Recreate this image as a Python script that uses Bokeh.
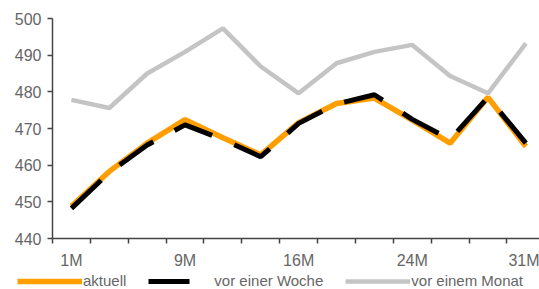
from bokeh.plotting import figure
from bokeh.layouts import column
from bokeh.models import FixedTicker, Legend, LegendItem, Range1d
from bokeh.embed import file_html
from bokeh.resources import INLINE

# --- data -------------------------------------------------------------
x_idx = list(range(13))
tick_positions = [0, 3, 6, 9, 12]
tick_labels = ["1M", "9M", "16M", "24M", "31M"]
aktuell = [448.8, 458.3, 466.0, 472.4, 467.5, 462.8, 471.6, 476.8, 478.3, 472.3, 466.0, 478.5, 465.1]
vor_woche = [448.2, 458.0, 465.5, 471.0, 467.0, 462.3, 471.4, 476.7, 479.2, 472.5, 467.0, 478.5, 466.0]
vor_monat = [477.8, 475.6, 485.0, 490.9, 497.3, 486.9, 479.6, 487.8, 490.9, 492.8, 484.3, 479.6, 493.2]
y_ticks = [440, 450, 460, 470, 480, 490, 500]
series_names = ["aktuell", "vor einer Woche", "vor einem Monat"]

FONT = "Liberation Sans"
TXT = "#666666"
AX = "#444444"
C_A, C_W, C_M = "#FF9E00", "#000000", "#C4C4C4"

main = figure(width=539, height=271, output_backend="svg", toolbar_location=None,
              x_range=Range1d(-0.5, 12.36), y_range=Range1d(440, 500),
              min_border_left=52, min_border_right=0, min_border_top=18, min_border_bottom=32)
main.outline_line_color = None
main.xgrid.visible = False
main.ygrid.visible = False
main.frame_align = False

main.line(x_idx, vor_monat, line_color=C_M, line_width=4.5)
main.line(x_idx, aktuell, line_color=C_A, line_width=5.5)
main.line(x_idx, vor_woche, line_color=C_W, line_width=5, line_dash="41 24")

# x axis
xa = main.xaxis[0]
xa.ticker = FixedTicker(ticks=tick_positions, minor_ticks=[i - 0.5 for i in range(13)])
xa.major_label_overrides = {t: l for t, l in zip(tick_positions, tick_labels)}
xa.major_tick_line_color = None
xa.major_tick_out = 5
xa.major_tick_in = 0
xa.minor_tick_out = 5
xa.minor_tick_in = 0
xa.minor_tick_line_color = AX
xa.minor_tick_line_width = 1.5
xa.axis_line_color = AX
xa.axis_line_width = 1.5
xa.major_label_standoff = 8
xa.major_label_text_font = FONT
xa.major_label_text_font_size = "16px"
xa.major_label_text_color = TXT

# y axis
ya = main.yaxis[0]
ya.ticker = FixedTicker(ticks=y_ticks)
ya.minor_tick_line_color = None
ya.major_tick_out = 5
ya.major_tick_in = 0
ya.major_tick_line_color = AX
ya.major_tick_line_width = 1.5
ya.axis_line_color = AX
ya.axis_line_width = 1.5
ya.major_label_standoff = 6
ya.major_label_text_font = FONT
ya.major_label_text_font_size = "16px"
ya.major_label_text_color = TXT

# legend strip (same series, drawn off-range so only the legend shows)
leg = figure(width=539, height=18, output_backend="svg", toolbar_location=None,
             x_range=Range1d(-0.5, 12.36), y_range=Range1d(0, 1),
             x_axis_type=None, y_axis_type=None,
             min_border_left=0, min_border_right=0, min_border_top=0, min_border_bottom=0)
leg.outline_line_color = None
leg.xgrid.visible = False
leg.ygrid.visible = False
leg.frame_align = False
la = leg.line(x_idx, aktuell, line_color=C_A, line_width=5.5)
lw = leg.line(x_idx, vor_woche, line_color=C_W, line_width=5, line_dash="41 24")
lm = leg.line(x_idx, vor_monat, line_color=C_M, line_width=4.5)
legend = Legend(items=[LegendItem(label=series_names[0], renderers=[la]),
                       LegendItem(label=series_names[1], renderers=[lw]),
                       LegendItem(label=series_names[2], renderers=[lm])],
                orientation="horizontal", location=(17, 0),
                glyph_width=65, glyph_height=14, label_standoff=1, spacing=22,
                padding=0, margin=0, border_line_color=None, background_fill_alpha=0,
                label_text_font=FONT, label_text_font_size="15px", label_text_color=TXT)
leg.add_layout(legend, "center")

p = column(main, leg, spacing=0)
open("out.html", "w").write(file_html(p, INLINE))
